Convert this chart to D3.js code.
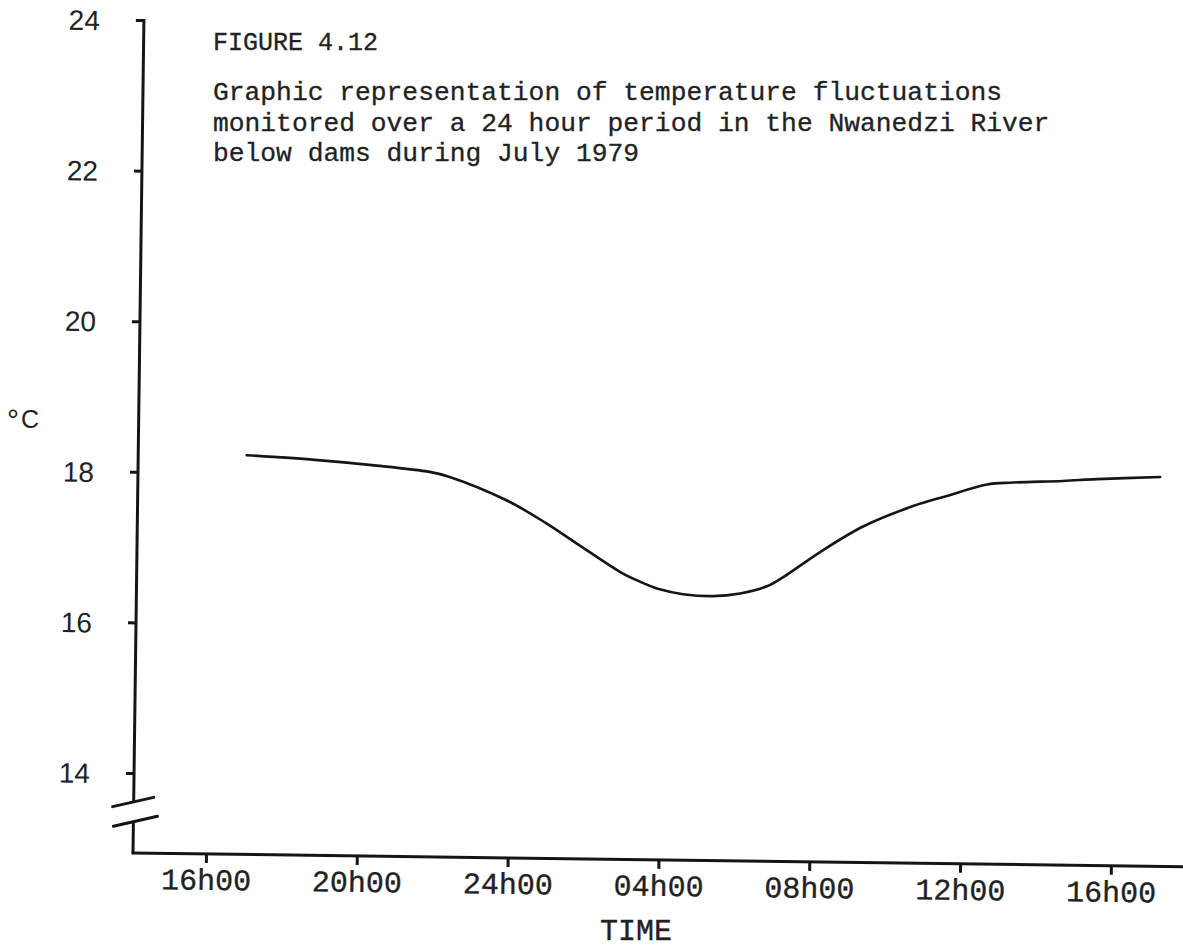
<!DOCTYPE html>
<html>
<head>
<meta charset="utf-8">
<script src="https://cdn.jsdelivr.net/npm/d3@7"></script>
<style>
  html, body { margin: 0; padding: 0; background: #ffffff; }
  svg { display: block; }
</style>
</head>
<body>
<svg id="chart" width="1183" height="949"></svg>
<script>
// ---- data (hours elapsed since 16h00 on day 1, water temperature in °C) ----
const hours = [0.94, 2.75, 4.26, 5.80, 6.31, 7.83, 8.87, 9.89, 10.90, 11.41, 11.94, 12.56, 13.35,
               14.07, 14.78, 15.20, 16.17, 17.31, 18.63, 19.52, 20.58, 21.27, 22.59, 23.50, 25.17];
const temps = [18.24, 18.19, 18.13, 18.05, 17.99, 17.69, 17.40, 17.07, 16.75, 16.63, 16.53, 16.47, 16.45,
               16.49, 16.59, 16.71, 17.05, 17.40, 17.68, 17.82, 17.98, 18.01, 18.04, 18.07, 18.11];
const xTickHours = [0, 4, 8, 12, 16, 20, 24];
const xTickLabels = ["16h00", "20h00", "24h00", "04h00", "08h00", "12h00", "16h00"];
const yTickValues = [14, 16, 18, 20, 22, 24];
const titleLines = ["FIGURE 4.12",
  "Graphic representation of temperature fluctuations",
  "monitored over a 24 hour period in the Nwanedzi River",
  "below dams during July 1979"];
const yUnit = ["°", "C"];
const xTitle = "TIME";

const ink = "#151515";
const mono = "'Liberation Mono', 'Courier New', monospace";
const sans = "'Liberation Sans', Arial, sans-serif";

const svg = d3.select("#chart");
// the scanned page is tilted slightly clockwise; the chart frame follows it
const g = svg.append("g").attr("transform", "translate(133,853) rotate(0.75)");

const x = d3.scaleLinear().domain([0, 24]).range([73, 978]);
const y = d3.scaleLinear().domain([14, 24]).range([-80, -833]);

// ---- y axis ticks (custom line with break) ----
const yAxis = d3.axisLeft(y).tickValues(yTickValues).tickSize(8).tickFormat(d3.format("d"));
const yg = g.append("g").call(yAxis);
yg.select(".domain").remove();
yg.selectAll(".tick line").attr("stroke", ink).attr("stroke-width", 3);
yg.selectAll(".tick text")
  .attr("x", -44).attr("dy", "0.36em")
  .attr("font-family", sans).attr("font-size", 28).attr("fill", "#222");

// axis line: upper part down to the break, lower part from the break to the corner
g.append("line").attr("x1", 0).attr("x2", 0).attr("y1", y(24) - 1).attr("y2", y(13.62))
  .attr("stroke", ink).attr("stroke-width", 3);
g.append("line").attr("x1", 0).attr("x2", 0).attr("y1", y(13.34)).attr("y2", 0)
  .attr("stroke", ink).attr("stroke-width", 3);
// break marks
g.append("line").attr("x1", -21).attr("y1", y(13.55)).attr("x2", 20).attr("y2", y(13.68))
  .attr("stroke", ink).attr("stroke-width", 3).attr("stroke-linecap", "round");
g.append("line").attr("x1", -20).attr("y1", y(13.29)).attr("x2", 24).attr("y2", y(13.43))
  .attr("stroke", ink).attr("stroke-width", 3).attr("stroke-linecap", "round");

// ---- x axis ----
g.append("line").attr("x1", -1.5).attr("x2", 1060).attr("y1", 0).attr("y2", 0)
  .attr("stroke", ink).attr("stroke-width", 3);
const xAxis = d3.axisBottom(x).tickValues(xTickHours).tickSize(9)
  .tickFormat((d, i) => xTickLabels[i]);
const xg = g.append("g").call(xAxis);
xg.select(".domain").remove();
xg.selectAll(".tick line").attr("stroke", ink).attr("stroke-width", 3);
xg.selectAll(".tick text")
  .attr("y", 36).attr("dy", 0)
  .attr("font-family", mono).attr("font-size", 30).attr("fill", "#222")
  .attr("stroke", "#222").attr("stroke-width", 0.35);

// ---- series ----
const pts = hours.map((h, i) => [h, temps[i]]);
g.append("path").datum(pts)
  .attr("fill", "none").attr("stroke", ink).attr("stroke-width", 2.6)
  .attr("stroke-linecap", "round").attr("stroke-linejoin", "round")
  .attr("d", d3.line().x(d => x(d[0])).y(d => y(d[1])).curve(d3.curveCatmullRom.alpha(0.5)));

// ---- texts (kept level, not rotated) ----
const titleY = [50, 100, 130.5, 161];
titleLines.forEach((t, i) => {
  svg.append("text").attr("x", 213).attr("y", titleY[i]).text(t)
    .attr("font-family", mono).attr("font-size", i === 0 ? 25 : 26.3).attr("fill", "#222")
    .attr("stroke", "#222").attr("stroke-width", 0.3);
});
const unit = svg.append("text").attr("x", 7).attr("y", 428)
  .attr("font-family", sans).attr("fill", "#222");
unit.append("tspan").attr("font-size", 30).attr("dy", 2).text(yUnit[0]);
unit.append("tspan").attr("font-size", 25).attr("dx", 2).attr("dy", -2).text(yUnit[1]);

svg.append("text").attr("x", 636).attr("y", 940).attr("text-anchor", "middle").text(xTitle)
  .attr("font-family", mono).attr("font-size", 30).attr("fill", "#222")
  .attr("stroke", "#222").attr("stroke-width", 0.35);
</script>
</body>
</html>
